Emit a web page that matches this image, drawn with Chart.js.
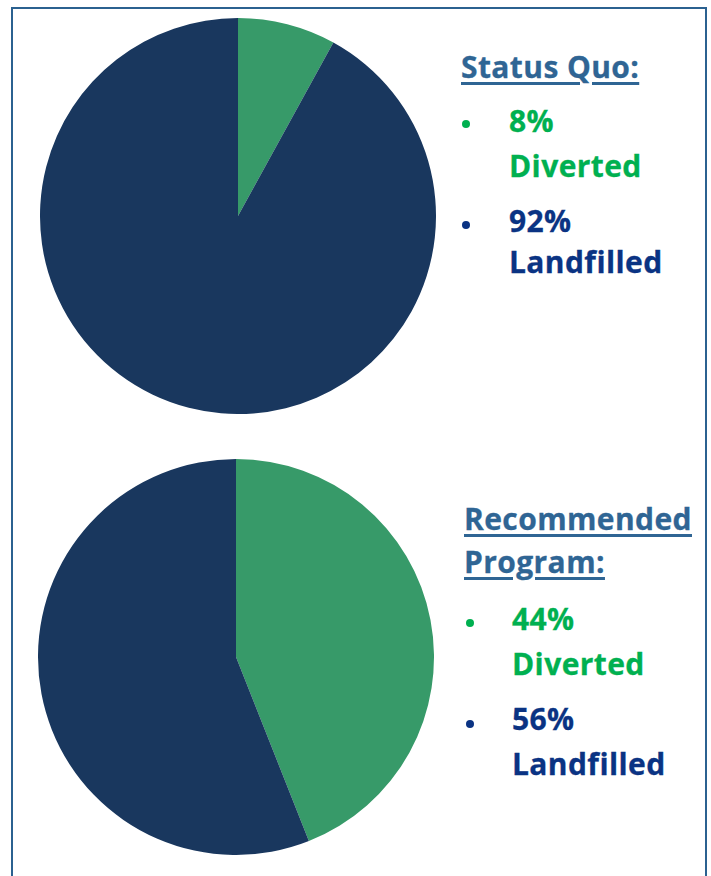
<!DOCTYPE html>
<html>
<head>
<meta charset="utf-8">
<script src="https://cdn.jsdelivr.net/npm/chart.js@4"></script>
<style>
  body { margin: 0; background: #fff; width: 711px; height: 876px; overflow: hidden; position: relative; font-family: "Open Sans", Lato, sans-serif; font-weight: 700; }
  #frame { position: absolute; left: 11px; top: 7px; width: 692px; height: 900px; border: 2.5px solid #2B6190; border-bottom: none; }
  canvas { position: absolute; }
  .line { position: absolute; font-size: 30px; line-height: 30px; letter-spacing: 0.4px; white-space: nowrap; -webkit-text-stroke: 0.3px currentColor; }
  .head { color: #2F6594; text-decoration: underline; text-decoration-thickness: 3px; text-underline-offset: 4px; }
  .green { color: #00B050; }
  .navy { color: #0A3383; }
  .dot { position: absolute; width: 8px; height: 8px; border-radius: 50%; }
</style>
</head>
<body>
<div id="frame"></div>
<canvas id="pieTop" width="396" height="396" style="left:40px; top:18px;"></canvas>
<canvas id="pieBottom" width="396" height="396" style="left:38px; top:459px;"></canvas>
<div id="labels"></div>
<script>
  // data
  const categories = ["Diverted", "Landfilled"];
  const statusQuo = [8, 92];
  const recommended = [44, 56];
  const sliceColors = ["#379A69", "#19375E"];

  document.addEventListener("DOMContentLoaded", () => {
    function makePie(id, values) {
      const ctx = document.getElementById(id).getContext("2d");
      return new Chart(ctx, {
        type: "pie",
        data: {
          labels: categories,
          datasets: [
            {
              data: values,
              backgroundColor: sliceColors,
              borderWidth: 0,
            },
          ],
        },
        options: {
          responsive: false,
          animation: false,
          layout: { padding: 0 },
          plugins: {
            legend: { display: false },
            tooltip: { enabled: false },
          },
        },
      });
    }

    makePie("pieTop", statusQuo);
    makePie("pieBottom", recommended);

    // text block next to each pie, positioned by baseline
    const labels = document.getElementById("labels");
    function addLine(text, cls, x, baseline) {
      const div = document.createElement("div");
      div.className = "line " + cls;
      div.textContent = text;
      div.style.left = x + "px";
      div.style.top = baseline - 26 + "px";
      labels.appendChild(div);
    }
    function addDot(cls, x, y) {
      const d = document.createElement("div");
      d.className = "dot";
      d.style.background = cls == "green" ? "#00B050" : "#0A3383";
      d.style.left = x - 4 + "px";
      d.style.top = y - 4 + "px";
      labels.appendChild(d);
    }

    // Status Quo
    addLine("Status Quo:", "head", 461, 78);
    addDot("green", 466, 124);
    addLine(statusQuo[0] + "%", "green", 509, 132);
    addLine(categories[0], "green", 509, 177);
    addDot("navy", 466, 225);
    addLine(statusQuo[1] + "%", "navy", 509, 232);
    addLine(categories[1], "navy", 509, 273);

    // Recommended Program
    addLine("Recommended", "head", 464, 530);
    addLine("Program:", "head", 464, 573);
    addDot("green", 470, 623);
    addLine(recommended[0] + "%", "green", 512, 630);
    addLine(categories[0], "green", 512, 675);
    addDot("navy", 470, 724);
    addLine(recommended[1] + "%", "navy", 512, 730);
    addLine(categories[1], "navy", 512, 775);
  });
</script>
</body>
</html>
